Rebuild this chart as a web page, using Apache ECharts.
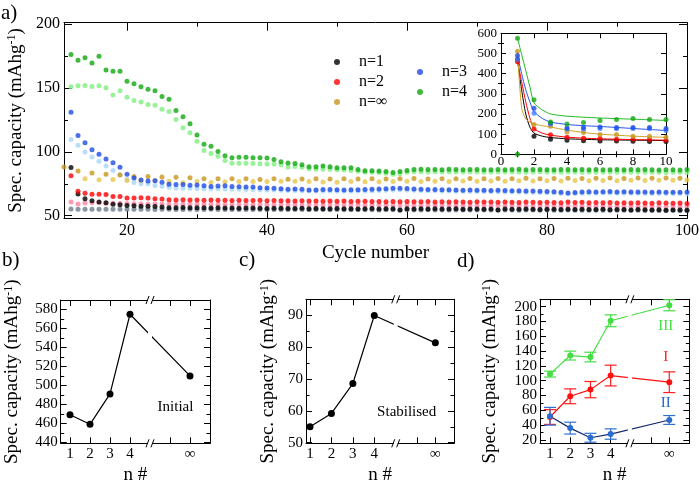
<!DOCTYPE html>
<html><head><meta charset="utf-8">
<script src="https://cdn.jsdelivr.net/npm/echarts@6/dist/echarts.min.js"></script>
<style>html,body{margin:0;padding:0;background:#fff}#c{width:700px;height:486px}</style>
</head><body><div id="c"></div><script>
const FONT = 'Liberation Serif';

// ---------- panel a : capacity vs cycle ----------
const cycleStart = 12;           // first cycle of most series
const n1 = [87.8,67.1,63.4,61.7,60.7,60.2,59.0,58.6,58.1,57.8,57.5,57.4,57.3,56.8,56.2,56.2,
 56.4,56.3,56.2,56.3,56.0,56.2,56.1,56.0,55.9,56.0,56.1,55.8,55.7,55.9,55.8,55.6,
 55.7,55.8,55.5,55.6,55.4,55.5,55.6,55.4,55.5,55.3,55.5,55.6,55.3,55.4,55.5,54.6,
 55.4,55.3,55.5,55.2,55.4,55.3,55.2,55.4,55.1,55.3,55.2,55.0,55.3,54.6,55.2,55.1,
 55.0,55.2,55.1,54.9,55.0,55.1,54.8,55.0,54.9,55.1,54.8,54.9,55.0,54.7,54.9,54.8,
 54.6,54.8,54.7,54.5,54.7,54.4,54.6,54.5,54.3];
const n1b = [55.2,55.0,55.1,55.0,55.0,55.1,55.0,55.0,55.0,55.1,55.0,55.0,54.9,55.0,55.0,54.9,
 54.9,55.0,54.9,54.9,55.0,54.9,54.9,54.8,54.9,54.9,54.8,54.9,54.8,54.8,54.9,54.8,
 54.8,54.8,54.7,54.8,54.8,54.7,54.8,54.7,54.7,54.8,54.7,54.7,54.6,54.7,54.7,54.6,
 54.7,54.6,54.6,54.7,54.6,54.6,54.5,54.6,54.6,54.5,54.6,54.5,54.5,54.6,54.5,54.5,
 54.4,54.5,54.5,54.4,54.5,54.4,54.4,54.5,54.4,54.4,54.3,54.4,54.4,54.3,54.4,54.3,
 54.3,54.3,54.2,54.3,54.2,54.2,54.3,54.2,54.1];
const n2 = [81.3,69.2,67.6,66.8,66.8,66.6,65.0,65.0,63.9,63.9,64.1,63.9,63.4,63.2,62.6,62.4,
 62.5,62.3,62.4,62.2,62.3,62.1,62.2,62.0,62.1,61.9,62.0,62.1,61.8,61.9,61.7,61.8,
 61.6,61.7,61.5,61.6,61.4,61.5,61.3,61.5,61.2,61.3,61.4,61.1,61.2,61.0,61.1,61.0,
 61.2,61.0,60.9,61.1,60.8,61.0,60.7,60.9,60.8,60.6,60.9,60.7,60.8,60.5,60.7,60.6,
 60.4,60.8,60.5,60.3,60.6,60.4,60.2,60.7,60.3,60.5,60.2,60.4,60.1,60.3,60.0,60.2,
 59.9,60.2,60.0,59.8,60.1,59.9,59.7,60.0,59.6];
const n2b = [60.8,59.2,60.0,60.2,60.3,59.7,59.7,59.5,59.5,59.4,59.3,59.3,59.2,59.2,59.1,59.0,
 59.1,59.0,59.0,58.9,59.0,58.9,58.8,58.9,58.8,58.8,58.7,58.8,58.7,58.6,58.7,58.6,
 58.6,58.5,58.6,58.5,58.4,58.5,58.4,58.4,58.3,58.4,58.3,58.2,58.3,58.2,58.2,58.1,
 58.2,58.1,58.1,58.0,58.1,58.0,57.9,58.0,57.9,57.9,57.8,57.9,57.8,57.8,57.7,57.8,
 57.7,57.7,57.6,57.7,57.6,57.6,57.5,57.6,57.5,57.5,57.4,57.5,57.4,57.4,57.3,57.4,
 57.3,57.3,57.2,57.3,57.2,57.2,57.1,57.2,57.1];
const n3 = [131.0,112.8,107.1,101.7,98.2,94.5,91.6,88.0,82.6,79.5,78.0,77.3,77.5,76.3,74.6,74.5,
 74.5,73.9,74.0,73.5,73.0,73.3,73.5,73.0,72.8,72.5,72.5,72.0,71.8,71.5,71.2,70.8,
 71.0,70.8,70.2,70.2,70.5,70.5,70.3,70.2,70.3,70.3,70.5,70.8,71.0,71.2,71.5,71.5,
 71.3,71.0,70.8,70.6,70.5,70.4,70.3,70.2,70.0,70.1,69.9,70.0,69.8,69.9,69.7,69.6,
 69.5,69.4,69.3,69.2,69.0,68.8,68.4,67.8,68.2,68.6,68.8,68.7,68.8,68.9,68.7,68.8,
 68.7,68.6,68.7,68.5,68.6,68.5,68.4,68.5,68.6];
const n3b = [109.7,105.3,100.0,96.0,92.6,89.0,85.5,82.1,78.4,76.0,75.0,75.0,73.7,73.2,72.4,71.8,
 71.6,71.5,71.3,71.2,71.0,71.1,70.9,70.8,70.7,70.6,70.5,70.3,70.2,70.1,69.9,69.8,
 69.7,69.6,69.4,69.3,69.4,69.3,69.2,69.3,69.2,69.3,69.4,69.6,69.8,70.0,70.2,70.3,
 70.2,70.0,69.8,69.6,69.5,69.4,69.3,69.2,69.1,69.0,69.0,68.9,68.8,68.8,68.7,68.6,
 68.5,68.4,68.3,68.2,68.0,67.8,67.5,67.2,67.4,67.6,67.7,67.7,67.8,67.8,67.7,67.7,
 67.6,67.6,67.5,67.5,67.5,67.4,67.4,67.4,67.3];
const n4 = [176.3,171.8,173.7,169.7,175.0,164.2,163.2,163.2,155.3,153.4,151.1,149.2,147.9,143.4,141.3,132.4,
 127.6,122.1,113.2,106.1,104.5,100.3,97.1,95.5,95.8,95.8,95.5,95.5,95.3,94.0,92.4,91.3,
 91.0,90.0,88.4,88.4,88.9,88.4,87.6,87.6,87.6,86.3,85.3,85.3,85.0,84.7,83.9,84.7,
 85.5,86.3,86.5,86.2,86.3,86.0,86.4,86.2,86.0,86.3,86.2,86.1,86.0,86.3,86.1,86.2,
 86.4,86.0,86.2,86.3,86.1,86.0,86.2,86.3,86.0,86.2,86.1,86.3,86.0,86.1,86.2,86.0,
 86.3,86.1,86.2,86.0,85.9,86.1,86.0,85.8,86.2];
const n4b = [151.1,151.8,152.1,151.3,151.8,150.3,144.7,147.9,142.9,140.3,139.2,137.1,136.6,133.4,131.6,125.5,
 118.9,115.0,108.4,101.1,98.7,96.6,93.2,91.1,91.1,91.1,91.0,90.8,90.5,90.5,90.0,88.2,
 88.5,88.0,86.8,86.5,86.5,86.5,86.0,85.8,85.5,84.8,84.0,84.0,83.8,83.3,82.5,83.0,
 84.0,84.5,84.5,84.3,84.4,84.2,84.5,84.3,84.2,84.4,84.3,84.1,84.2,84.4,84.3,84.2,
 84.3,84.1,84.2,84.4,84.2,84.3,84.1,84.2,84.3,84.1,84.2,84.0,84.2,84.3,84.1,84.2,
 84.0,84.2,84.1,84.0,84.1,83.9,84.0,84.1,83.9];
const nInfStart = 11;            // measured on odd cycles
const nInf = [88.2,85.0,83.5,82.5,81.9,80.8,80.8,80.3,80.2,79.7,78.9,78.9,78.9,78.9,78.4,78.9,78.6,
 78.8,79.0,78.7,78.9,78.8,79.0,78.7,78.9,79.1,78.8,79.0,78.9,79.2,78.9,79.1,79.0,79.3,78.9,79.2,79.4,79.1,79.3,79.6,79.2,79.5,79.3,79.6,79.4];
const nInfBStart = 14;           // measured on even cycles
const nInfB = [78.9,78.2,78.4,77.6,77.6,77.6,77.1,75.8,76.8,76.1,76.6,76.8,76.8,76.8,77.1,
 77.1,76.8,76.5,76.3,76.8,76.7,76.6,76.9,77.0,76.8,77.1,76.9,77.2,77.0,77.3,77.1,77.4,77.2,77.5,77.3,77.6,77.4,77.7,77.5,77.8,77.6,77.9,77.8,78.0];

// ---------- inset ----------
const insetCycles = [1,2,3,4,5,6,7,8,9,10];
const insN1 = [470,90,75,70,67,66,66,65,64,64];
const insN2 = [459,125,97,85,80,78,75,75,73,70];
const insInf = [511,148,139,110,108,98,98,90,90,85];
const insN3 = [490,228,155,130,133,135,133,133,133,128];
const insN3b = [470,204,150,125,125,128,127,128,127,118];
const insN4 = [575,270,160,150,158,168,172,177,173,173];
const insN4b = [0];
const fitX = [1,1.25,1.5,1.75,2,2.5,3,4,5,6,8,10];
const fitN4 = [575,495,415,335,255,220,200,189,184,180,174,168];
const fitN3 = [490,400,320,260,212,178,160,148,142,138,128,118];
const fitInf = [510,230,175,160,150,142,135,120,108,100,90,84];
const fitN2 = [460,360,260,180,128,105,95,85,80,77,73,70];
const fitN1 = [470,320,200,135,105,90,83,77,74,72,70,68];

// ---------- panels b, c, d ----------
const nLabels = ['1','2','3','4','\u221e'];
const posB = [1,2,3,4,7];
const initialCap = [469,459,491,575,510];
const posC = [1,2,3,4,6.85];
const stabilisedCap = [55,59.2,68.6,90,81.4];
const posD = [1,2,3,4,6.9];
const capIII = [109,134,132,181,202], errIII = [4,6,6.5,8,7.5];
const capI = [51,79,88,107,98], errI = [10,10,11,14,14];
const capII = [52,36,23,28,47], errII = [12,8,6,7,6];

// ---------- helpers ----------
const xAxes = [], yAxes = [];
function axisSet(list, dim, g, o) {
  const sides = dim === 'x' ? ['bottom','top'] : ['left','right'];
  const idx = list.length;
  const common = {type:'value', gridIndex:g, min:o.min, max:o.max, splitLine:{show:false}, minorTick:{show:false}};
  const tickStyle = {color:'#000', width:1};
  sides.forEach((side, si) => {
    const ax = Object.assign({}, common, {
      position: side,
      axisLine: {show:true, onZero:false, lineStyle:{color:'#000', width:1}},
      axisTick: {show:true, inside:true, length:o.majLen, customValues:o.major, lineStyle:tickStyle},
      axisLabel: si === 0 ? {show:true, customValues:o.labels, formatter:o.fmt, margin:o.margin,
        fontFamily:FONT, fontSize:o.fontSize, color:'#000'} : {show:false}
    });
    if (si === 0 && o.name) {
      ax.name = o.name; ax.nameLocation = 'middle'; ax.nameGap = o.nameGap;
      if (dim === 'y') ax.nameRotate = 90;
      ax.nameTextStyle = {fontFamily:FONT, fontSize:19, color:'#000',
        rich:{s:{fontFamily:FONT, fontSize:12, verticalAlign:'top', color:'#000'}}};
    }
    list.push(ax);
    if (o.minor && o.minor.length) {
      list.push(Object.assign({}, common, {position:side, axisLine:{show:false},
        axisTick:{show:true, inside:true, length:o.minLen, customValues:o.minor, lineStyle:tickStyle},
        axisLabel:{show:false}}));
    }
  });
  return idx;
}
const range = (a, b, s) => { const r = []; for (let v = a; v <= b + 1e-9; v += s) r.push(+v.toFixed(4)); return r; };
const pairs = (xs, ys) => ys.map((v, i) => [xs[i], v]);
const fromStart = (start, step, ys) => ys.map((v, i) => [start + i * step, v]);
const yName = 'Spec. capacity (mAhg{s|-1})';
const nFmt = pos => (v => { const i = pos.findIndex(p => Math.abs(p - v) < 1e-6); return i >= 0 ? nLabels[i] : ''; });

const grids = [
  {left:64, top:22.7, width:623, height:195.6},     // a
  {left:501, top:33.3, width:165, height:121},      // inset
  {left:60.7, top:300, width:149.3, height:143.3},  // b
  {left:306, top:299.3, width:148, height:144},     // c
  {left:540, top:299.3, width:149.3, height:144}    // d
].map(g => Object.assign(g, {outerBoundsMode:'none', containLabel:false}));

const xA = axisSet(xAxes, 'x', 0, {min:11, max:100, major:[20,40,60,80,100], labels:[20,40,60,80,100], minor:[30,50,70,90],
  majLen:8, minLen:4, margin:4, fontSize:16, fmt:v => String(v), name:'Cycle number', nameGap:25});
const yA = axisSet(yAxes, 'y', 0, {min:48, max:201.25, major:[50,100,150,200], labels:[50,100,150,200], minor:[75,125,175],
  majLen:8, minLen:4, margin:4, fontSize:16, fmt:v => String(v), name:yName, nameGap:33});
const xI = axisSet(xAxes, 'x', 1, {min:0, max:10, major:[2,4,6,8], labels:[0,2,4,6,8,10], minor:[1,3,5,7,9],
  majLen:5, minLen:3, margin:1, fontSize:13, fmt:v => String(v)});
const yI = axisSet(yAxes, 'y', 1, {min:0, max:600, major:[100,200,300,400,500], labels:[0,100,200,300,400,500,600], minor:[50,150,250,350,450,550],
  majLen:5, minLen:3, margin:4, fontSize:13, fmt:v => String(v)});
const xB = axisSet(xAxes, 'x', 2, {min:0.535, max:8, major:[1,2,3,4,6,7], labels:posB, minor:[],
  majLen:6, minLen:3, margin:3, fontSize:15, fmt:nFmt(posB), name:'n #', nameGap:22});
const yB = axisSet(yAxes, 'y', 2, {min:439, max:590, major:range(440,580,20), labels:range(440,580,20), minor:range(450,570,20),
  majLen:6, minLen:3.5, margin:3, fontSize:15, fmt:v => String(v), name:yName, nameGap:38.7});
const xC = axisSet(xAxes, 'x', 3, {min:0.813, max:7.72, major:[1,2,3,4,6,6.85], labels:posC, minor:[],
  majLen:6, minLen:3, margin:3, fontSize:15, fmt:nFmt(posC), name:'n #', nameGap:22});
const yC = axisSet(yAxes, 'y', 3, {min:49.8, max:95.1, major:range(50,90,10), labels:range(50,90,10), minor:range(55,85,10),
  majLen:6, minLen:3.5, margin:3, fontSize:15, fmt:v => String(v), name:yName, nameGap:28});
const xD = axisSet(xAxes, 'x', 4, {min:0.505, max:7.89, major:[1,2,3,4,6,6.9], labels:posD, minor:[],
  majLen:6, minLen:3, margin:3, fontSize:15, fmt:nFmt(posD), name:'n #', nameGap:22});
const yD = axisSet(yAxes, 'y', 4, {min:15.5, max:210, major:range(20,200,20), labels:range(20,200,20), minor:range(30,190,20),
  majLen:6, minLen:3.5, margin:3, fontSize:15, fmt:v => String(v), name:yName, nameGap:40});

const dots = (name, color, data, xi, yi, size) => ({type:'scatter', name, data, xAxisIndex:xi, yAxisIndex:yi,
  symbol:'circle', symbolSize:size || 5, itemStyle:{color}, z:3});
const fitLine = (color, ys) => ({type:'line', data:pairs(fitX, ys), xAxisIndex:xI, yAxisIndex:yI, symbol:'none',
  smooth:0.25, lineStyle:{color, width:1}, z:2});
const panelLine = (name, xs, ys, xi, yi, lineColor, dotColor, size) => ({type:'line', name, data:pairs(xs, ys),
  xAxisIndex:xi, yAxisIndex:yi, symbol:'circle', symbolSize:size, showSymbol:true,
  lineStyle:{color:lineColor, width:1.2}, itemStyle:{color:dotColor}, z:3});
function errRender(color) {
  return function (params, api) {
    const x = api.value(0);
    const p1 = api.coord([x, api.value(1)]), p2 = api.coord([x, api.value(2)]);
    const w = 6, st = {stroke:color, lineWidth:1.2, fill:null};
    return {type:'group', children:[
      {type:'line', shape:{x1:p1[0], y1:p1[1], x2:p2[0], y2:p2[1]}, style:st},
      {type:'line', shape:{x1:p1[0]-w, y1:p1[1], x2:p1[0]+w, y2:p1[1]}, style:st},
      {type:'line', shape:{x1:p2[0]-w, y1:p2[1], x2:p2[0]+w, y2:p2[1]}, style:st}]};
  };
}
const errSeries = (color, xs, ys, es) => ({type:'custom', xAxisIndex:xD, yAxisIndex:yD,
  data:ys.map((v, i) => [xs[i], v - es[i], v + es[i]]), encode:{x:0, y:[1,2]}, renderItem:errRender(color), z:2});

const C = {n1:'#000000', n1b:'#6d7c8c', n2:'#ff0000', n2b:'#ff82a2', inf:'#c8961e', infb:'#e8c64a',
  n3:'#1f4be6', n3b:'#a8d6f6', n4:'#0fa80f', n4b:'#80ef80'};

const series = [
  dots('n=1 b', C.n1b, fromStart(cycleStart, 1, n1b), xA, yA),
  dots('n=2 b', C.n2b, fromStart(cycleStart, 1, n2b), xA, yA),
  dots('n=3 b', C.n3b, fromStart(cycleStart, 1, n3b), xA, yA),
  dots('n=4 b', C.n4b, fromStart(cycleStart, 1, n4b), xA, yA),
  dots('n=\u221e b', C.infb, fromStart(nInfBStart, 2, nInfB), xA, yA),
  dots('n=1', C.n1, fromStart(cycleStart, 1, n1), xA, yA),
  dots('n=2', C.n2, fromStart(cycleStart, 1, n2), xA, yA),
  dots('n=\u221e', C.inf, fromStart(nInfStart, 2, nInf), xA, yA),
  dots('n=3', C.n3, fromStart(cycleStart, 1, n3), xA, yA),
  dots('n=4', C.n4, fromStart(cycleStart, 1, n4), xA, yA),
  // inset
  fitLine('#000000', fitN1), fitLine('#ff0000', fitN2), fitLine('#d4a020', fitInf),
  fitLine('#2255ee', fitN3), fitLine('#22bb22', fitN4),
  dots('i1', C.n1, pairs(insetCycles, insN1), xI, yI, 5),
  dots('i2', C.n2, pairs(insetCycles, insN2), xI, yI, 5),
  dots('iinf', C.inf, pairs(insetCycles, insInf), xI, yI, 5),
  dots('i3b', '#3f7fff', pairs(insetCycles, insN3b), xI, yI, 5),
  dots('i3', C.n3, pairs(insetCycles, insN3), xI, yI, 5),
  dots('i4b', C.n4, pairs(insetCycles, insN4b), xI, yI, 5),
  dots('i4', C.n4, pairs(insetCycles, insN4), xI, yI, 5),
  // b, c
  panelLine('initial', posB, initialCap, xB, yB, '#000', '#000', 7),
  panelLine('stabilised', posC, stabilisedCap, xC, yC, '#000', '#000', 7),
  // d
  errSeries('#44dd44', posD, capIII, errIII),
  errSeries('#ff2020', posD, capI, errI),
  errSeries('#3070d0', posD, capII, errII),
  panelLine('III', posD, capIII, xD, yD, '#44dd44', '#44dd44', 6),
  panelLine('I', posD, capI, xD, yD, '#ff1010', '#ff1010', 6),
  panelLine('II', posD, capII, xD, yD, '#14286e', '#2a6ccf', 6)
];

const legendText = {fontFamily:FONT, fontSize:16, color:'#000', padding:[0,0,0,14]};
const option = {
  animation:false,
  backgroundColor:'#fff',
  grid:grids,
  xAxis:xAxes,
  yAxis:yAxes,
  legend:[
    {data:['n=1','n=2','n=\u221e'], orient:'vertical', left:329, top:49, itemWidth:6, itemHeight:6, itemGap:4,
      icon:'circle', selectedMode:false, textStyle:legendText},
    {data:['n=3','n=4'], orient:'vertical', left:412, top:59, itemWidth:6, itemHeight:6, itemGap:4,
      icon:'circle', selectedMode:false, textStyle:legendText}
  ],
  series
};
const chart = echarts.init(document.getElementById('c'), null, {renderer:'canvas'});
chart.setOption(option);

// decorations: panel letters, annotations, axis-break marks
const txt = (text, x, y, size, color, align) => ({type:'text', x, y, z:110,
  style:{text, font:size + 'px "' + FONT + '"', fill:color || '#000', textAlign:align || 'center', textVerticalAlign:'middle',
    align:align || 'center', verticalAlign:'middle'}});
const els = [
  txt('a)', 1, 13, 21, '#000', 'left'),
  txt('b)', 2, 260, 21, '#000', 'left'),
  txt('c)', 239, 260, 21, '#000', 'left'),
  txt('d)', 457, 261, 21, '#000', 'left'),
  txt('Initial', 175.5, 407, 15),
  txt('Stabilised', 406.7, 412, 15),
  txt('III', 665.8, 326, 15, '#44dd44'),
  txt('I', 665.8, 357, 15, '#ff2020'),
  txt('II', 665.8, 403, 15, '#2266cc')
];
const breaks = [
  {series:'initial', xi:xB, yi:yB, x:5},
  {series:'stabilised', xi:xC, yi:yC, x:5},
  {series:'II', xi:xD, yi:yD, x:4.95}
];
breaks.forEach(b => {
  const sIdx = series.findIndex(s => s.name === b.series);
  const yAx = yAxes[b.yi];
  const top = chart.convertToPixel({seriesIndex:sIdx}, [b.x, yAx.max]);
  const bot = chart.convertToPixel({seriesIndex:sIdx}, [b.x, yAx.min]);
  els.push({type:'rect', z:100, shape:{x:top[0]-2, y:top[1]+1, width:4, height:bot[1]-top[1]-2}, style:{fill:'#fff'}});
  [top, bot].forEach(p => {
    els.push({type:'rect', z:101, shape:{x:p[0]-2, y:p[1]-1.5, width:4, height:3}, style:{fill:'#fff'}});
    els.push({type:'line', z:102, shape:{x1:p[0]-4, y1:p[1]+4, x2:p[0]-1, y2:p[1]-4}, style:{stroke:'#000', lineWidth:1}});
    els.push({type:'line', z:102, shape:{x1:p[0]+1, y1:p[1]+4, x2:p[0]+4, y2:p[1]-4}, style:{stroke:'#000', lineWidth:1}});
  });
});
chart.setOption({graphic:{elements:els}});
</script></body></html>
